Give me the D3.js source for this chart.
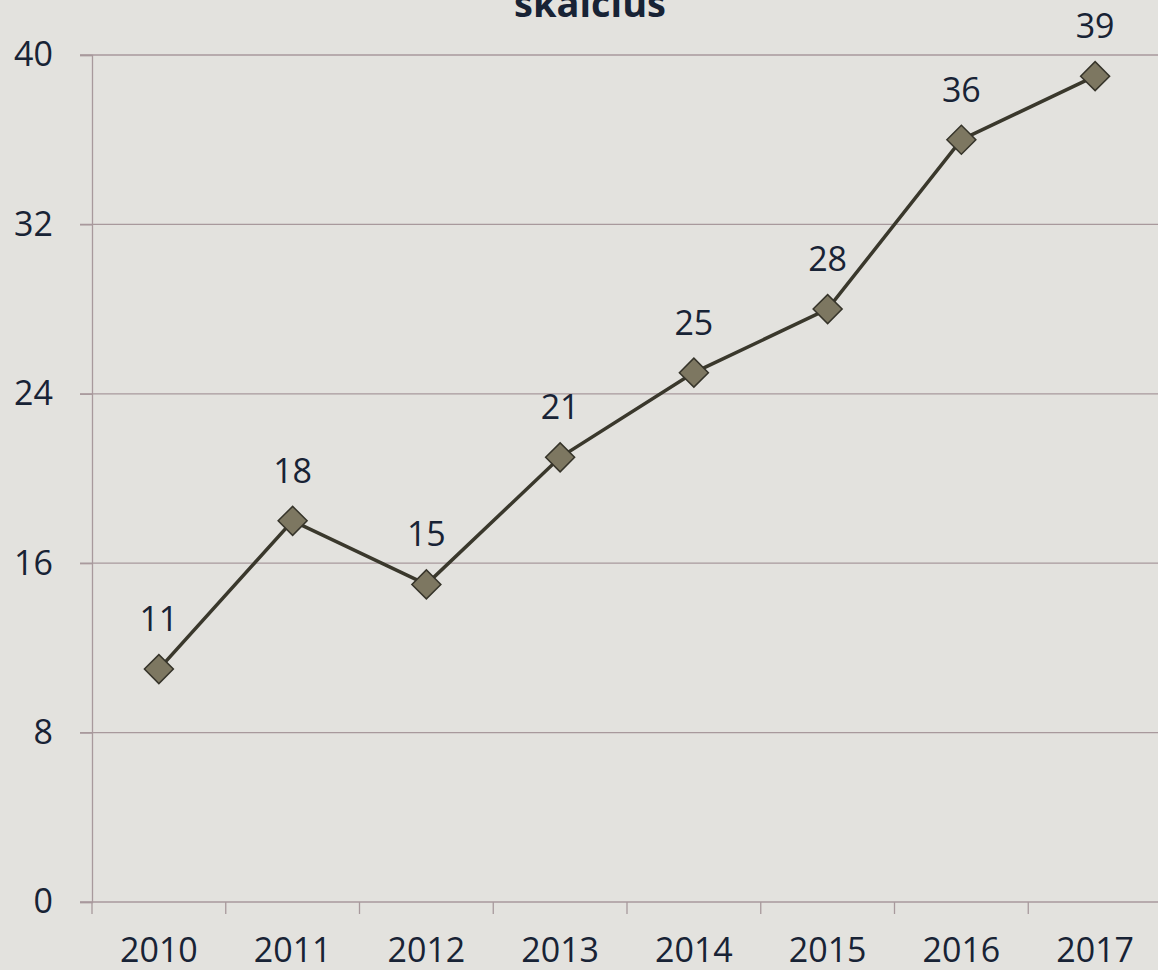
<!DOCTYPE html>
<html>
<head>
<meta charset="utf-8">
<script src="https://cdn.jsdelivr.net/npm/d3@7"></script>
<style>
  body { margin: 0; background: #e3e2de; }
  svg { display: block; }
  text { font-family: "Open Sans", sans-serif; fill: #182335; }
</style>
</head>
<body>
<svg id="chart"></svg>
<script>
var years = ["2010", "2011", "2012", "2013", "2014", "2015", "2016", "2017"];
var values = [11, 18, 15, 21, 25, 28, 36, 39];
var yTicks = [0, 8, 16, 24, 32, 40];
var title = "skaičius";

var width = 1158, height = 970;
var margin = {top: 55, right: -4, bottom: 68, left: 92};

var svg = d3.select("#chart")
  .attr("width", width)
  .attr("height", height);

svg.append("rect")
  .attr("width", width)
  .attr("height", height)
  .attr("fill", "#e3e2de");

var x = d3.scaleBand().domain(years).range([margin.left, width - margin.right]);
var y = d3.scaleLinear().domain([0, 40]).range([height - margin.bottom, margin.top]);

var gridColor = "#a8999c";

// gridlines
svg.append("g")
  .selectAll("line")
  .data(yTicks.filter(function(d) { return d > 0; }))
  .enter().append("line")
  .attr("x1", margin.left - 12)
  .attr("x2", width)
  .attr("y1", function(d) { return y(d); })
  .attr("y2", function(d) { return y(d); })
  .attr("stroke", gridColor)
  .attr("stroke-width", 1.3);

// y axis
var yAxis = d3.axisLeft(y).tickValues(yTicks).tickSize(12).tickPadding(27);
var gy = svg.append("g")
  .attr("transform", "translate(" + margin.left + ",0)")
  .call(yAxis);
gy.select(".domain").attr("stroke", gridColor).attr("stroke-width", 1.3);
gy.selectAll(".tick line").attr("stroke", gridColor).attr("stroke-width", 1.3);
gy.selectAll(".tick text")
  .style("font-size", "34px")
  .attr("fill", "#182335");

// x axis
var xAxis = d3.axisBottom(x).tickSize(0).tickPadding(36);
var gx = svg.append("g")
  .attr("transform", "translate(0," + y(0) + ")")
  .call(xAxis);
gx.select(".domain").remove();
gx.selectAll(".tick text")
  .style("font-size", "34px")
  .attr("fill", "#182335");

svg.append("line")
  .attr("x1", margin.left - 12)
  .attr("x2", width)
  .attr("y1", y(0))
  .attr("y2", y(0))
  .attr("stroke", gridColor)
  .attr("stroke-width", 1.3);

// x ticks at band boundaries
svg.append("g")
  .selectAll("line")
  .data(years)
  .enter().append("line")
  .attr("x1", function(d) { return x(d); })
  .attr("x2", function(d) { return x(d); })
  .attr("y1", y(0))
  .attr("y2", y(0) + 12)
  .attr("stroke", gridColor)
  .attr("stroke-width", 1.3);

var cx = function(d, i) { return x(years[i]) + x.bandwidth() / 2; };

var line = d3.line()
  .x(function(d, i) { return x(years[i]) + x.bandwidth() / 2; })
  .y(function(d) { return y(d); });

svg.append("path")
  .datum(values)
  .attr("d", line)
  .attr("fill", "none")
  .attr("stroke", "#3a382c")
  .attr("stroke-width", 3.5);

svg.append("g")
  .selectAll("path")
  .data(values)
  .enter().append("path")
  .attr("d", d3.symbol().type(d3.symbolSquare).size(420))
  .attr("transform", function(d, i) { return "translate(" + cx(d, i) + "," + y(d) + ") rotate(45)"; })
  .attr("fill", "#7d7761")
  .attr("stroke", "#36342a")
  .attr("stroke-width", 1.5);

svg.append("g")
  .selectAll("text")
  .data(values)
  .enter().append("text")
  .attr("x", function(d, i) { return cx(d, i); })
  .attr("y", function(d) { return y(d) - 38; })
  .attr("text-anchor", "middle")
  .style("font-size", "34px")
  .text(function(d) { return d; });

svg.append("text")
  .attr("x", 590)
  .attr("y", 17)
  .attr("text-anchor", "middle")
  .style("font-size", "38px")
  .style("font-weight", "bold")
  .text(title);
</script>
</body>
</html>
